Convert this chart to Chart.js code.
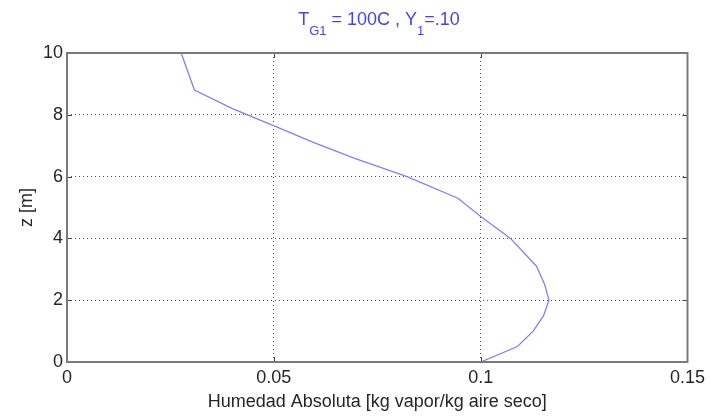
<!DOCTYPE html>
<html>
<head>
<meta charset="utf-8">
<script src="https://cdn.jsdelivr.net/npm/chart.js@4/dist/chart.umd.min.js"></script>
<style>
  html, body { margin: 0; padding: 0; background: #fff; }
  #wrap { width: 710px; height: 416px; }
</style>
</head>
<body>
<div id="wrap"><canvas id="c" width="710" height="416"></canvas></div>
<script>
// humidity profile along the column
const Z_VALUES = [0, 0.5, 1, 1.5, 2, 2.5, 3.1, 4, 4.7, 5.3, 6, 6.6, 7.1, 7.6, 8.2, 8.8, 10];
const Y_VALUES = [0.1, 0.1089, 0.1127, 0.1152, 0.1165, 0.1155, 0.1135, 0.1072, 0.1001, 0.0945,
  0.0822, 0.0694, 0.0597, 0.0508, 0.0400, 0.0308, 0.0276];

const X_TICKS = [0, 0.05, 0.1, 0.15];
const X_TICK_LABELS = ['0', '0.05', '0.1', '0.15'];
const Z_TICKS = [0, 2, 4, 6, 8, 10];
const Z_TICK_LABELS = ['0', '2', '4', '6', '8', '10'];

const FONT = 'Liberation Sans, Arial, sans-serif';
const TEXT = '#262626';
const LINE_BLUE = '#8080f2';
const TITLE_BLUE = '#4646e0';

// title with subscripts: T_G1 = 100C , Y_1=.10
const titlePlugin = {
  id: 'subTitle',
  afterDraw(chart) {
    const ctx = chart.ctx;
    const parts = [['T', 0], ['G1', 1], [' = 100C , Y', 0], ['1', 1], ['=.10', 0]];
    const big = '18px ' + FONT, small = '13px ' + FONT;
    let w = 0;
    parts.forEach(function(p) { ctx.font = p[1] ? small : big; w += ctx.measureText(p[0]).width; });
    let x = 379 - w / 2;
    ctx.save();
    ctx.fillStyle = TITLE_BLUE;
    ctx.textBaseline = 'alphabetic';
    parts.forEach(function(p) {
      ctx.font = p[1] ? small : big;
      ctx.fillText(p[0], x, p[1] ? 35 : 25);
      x += ctx.measureText(p[0]).width;
    });
    ctx.restore();
  }
};

// axis box and inward tick marks
const boxPlugin = {
  id: 'box',
  afterDatasetsDraw(chart) {
    const ctx = chart.ctx, a = chart.chartArea;
    const xs = chart.scales.x, ys = chart.scales.y;
    ctx.save();
    ctx.strokeStyle = '#444';
    ctx.lineWidth = 1;
    ctx.beginPath();
    X_TICKS.forEach(function(v) {
      const px = Math.round(xs.getPixelForValue(v)) + 0.5;
      ctx.moveTo(px, a.bottom); ctx.lineTo(px, a.bottom - 5);
      ctx.moveTo(px, a.top); ctx.lineTo(px, a.top + 5);
    });
    Z_TICKS.forEach(function(v) {
      const py = Math.round(ys.getPixelForValue(v)) + 0.5;
      ctx.moveTo(a.left, py); ctx.lineTo(a.left + 5, py);
      ctx.moveTo(a.right, py); ctx.lineTo(a.right - 5, py);
    });
    ctx.stroke();
    ctx.strokeStyle = '#7a7a7a';
    ctx.lineWidth = 2;
    ctx.strokeRect(a.left, a.top, a.right - a.left, a.bottom - a.top);
    ctx.restore();
  }
};

new Chart(document.getElementById('c'), {
  type: 'scatter',
  data: {
    datasets: [{
      data: Z_VALUES.map(function(z, i) { return { x: Y_VALUES[i], y: z }; }),
      showLine: true,
      borderColor: LINE_BLUE,
      borderWidth: 1.3,
      pointRadius: 0,
      tension: 0
    }]
  },
  options: {
    responsive: false,
    animation: false,
    layout: { padding: { top: 53, right: 19, left: 0, bottom: 0 } },
    plugins: { legend: { display: false }, tooltip: { enabled: false } },
    scales: {
      x: {
        type: 'linear', min: 0, max: 0.15,
        afterFit: function(s) { s.height = 54; },
        afterBuildTicks: function(s) { s.ticks = X_TICKS.map(function(v) { return { value: v }; }); },
        ticks: {
          padding: 5, color: TEXT, font: { family: FONT, size: 18 },
          callback: function(v, i) { return X_TICK_LABELS[i]; }
        },
        grid: { color: '#555', lineWidth: 1, drawTicks: false },
        border: { display: false, dash: [1, 3] },
        title: {
          display: true, text: 'Humedad Absoluta [kg vapor/kg aire seco]',
          color: TEXT, font: { family: FONT, size: 18 }, padding: { top: 0, bottom: 3 }
        }
      },
      y: {
        type: 'linear', min: 0, max: 10,
        afterFit: function(s) { s.width = 67; },
        afterBuildTicks: function(s) { s.ticks = Z_TICKS.map(function(v) { return { value: v }; }); },
        ticks: {
          padding: 4, color: TEXT, font: { family: FONT, size: 18 },
          callback: function(v, i) { return Z_TICK_LABELS[i]; }
        },
        grid: { color: '#555', lineWidth: 1, drawTicks: false },
        border: { display: false, dash: [1, 3] },
        title: {
          display: true, text: 'z [m]',
          color: TEXT, font: { family: FONT, size: 18 }, padding: { top: 16, bottom: 0 }
        }
      }
    }
  },
  plugins: [titlePlugin, boxPlugin]
});
</script>
</body>
</html>
